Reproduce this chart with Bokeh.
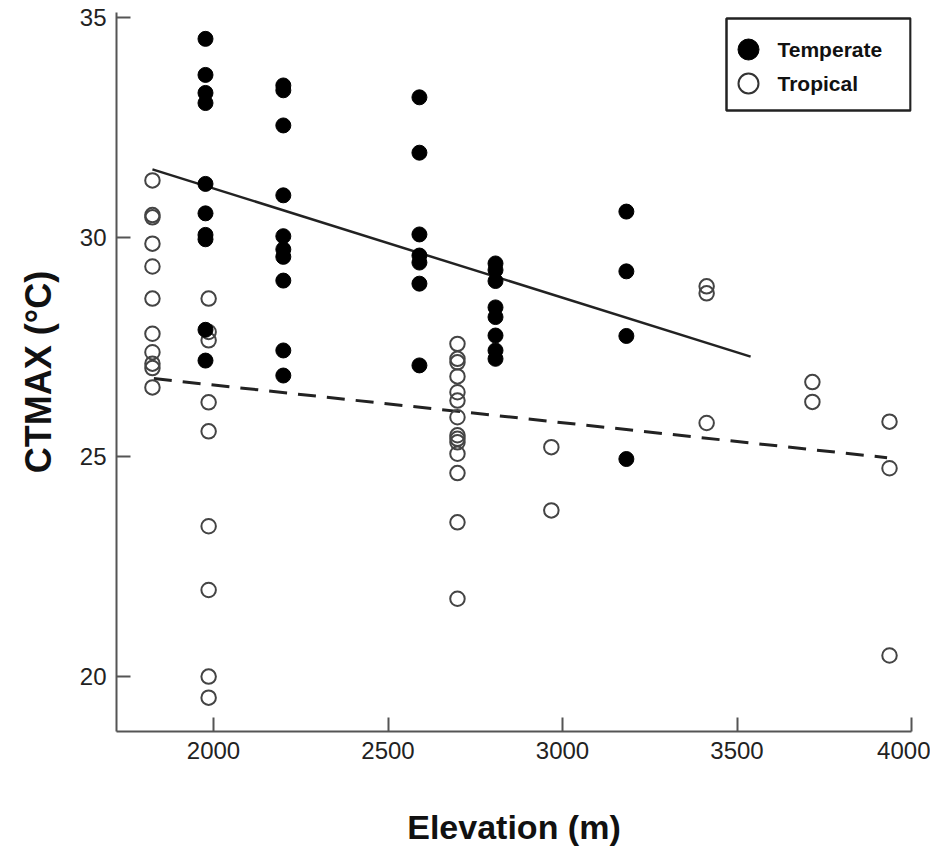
from bokeh.plotting import figure
from bokeh.models import Range1d
from bokeh.embed import file_html
from bokeh.resources import INLINE
from bokeh.core.properties import value

# ---------------- data ----------------
temperate_elev = [1977] * 10 + [2200] * 10 + [2590] * 7 + [2808] * 8 + [3183] * 4
temperate_ctmax = [
    34.51, 33.69, 33.28, 33.05, 31.21, 30.54, 30.05, 29.95, 27.89, 27.19,
    33.45, 33.34, 32.54, 30.95, 30.02, 29.72, 29.55, 29.01, 27.42, 26.85,
    33.18, 31.92, 30.06, 29.58, 29.42, 28.94, 27.08,
    29.40, 29.25, 29.00, 28.40, 28.18, 27.76, 27.42, 27.23,
    30.58, 29.22, 27.75, 24.95,
]
tropical_elev = ([1825] * 11 + [1986] * 9 + [2699] * 14 + [2968] * 2
                 + [3413] * 3 + [3716] * 2 + [3937] * 3)
tropical_ctmax = [
    31.29, 30.50, 30.45, 29.85, 29.33, 28.60, 27.80, 27.38, 27.12, 27.02, 26.58,
    28.60, 27.84, 27.65, 26.24, 25.58, 23.42, 21.97, 20.00, 19.52,
    27.57, 27.23, 27.15, 26.83, 26.47, 26.28, 25.90, 25.49, 25.41, 25.33,
    25.07, 24.63, 23.51, 21.77,
    25.22, 23.78,
    28.88, 28.72, 25.77,
    26.70, 26.25,
    25.80, 24.74, 20.48,
]
temperate_fit_x = [1825, 3539]
temperate_fit_y = [31.54, 27.28]
tropical_fit_x = [1829, 3930]
tropical_fit_y = [26.78, 24.98]

x_ticks = [2000, 2500, 3000, 3500, 4000]
y_ticks = [20, 25, 30, 35]
legend_labels = ["Temperate", "Tropical"]

X_MIN, X_MAX = 1722, 4000
Y_MIN, Y_MAX = 18.75, 35.11

# ---------------- layout ----------------
W, H = 930, 852
LEFT, RIGHT, TOP, BOTTOM = 116, 19, 12, 121
FW, FH = W - LEFT - RIGHT, H - TOP - BOTTOM

FONT = "Liberation Sans"

p = figure(width=W, height=H, output_backend="svg", toolbar_location=None,
           x_range=Range1d(X_MIN, X_MAX), y_range=Range1d(Y_MIN, Y_MAX),
           min_border_left=LEFT, min_border_right=RIGHT,
           min_border_top=TOP, min_border_bottom=BOTTOM)
p.outline_line_color = None
p.xgrid.visible = False
p.ygrid.visible = False
p.background_fill_color = "white"
p.border_fill_color = "white"

for ax in (p.xaxis[0], p.yaxis[0]):
    ax.axis_line_color = "#555555"
    ax.axis_line_width = 2
    ax.major_tick_line_color = "#555555"
    ax.major_tick_line_width = 2
    ax.major_tick_in = 14
    ax.major_tick_out = 0
    ax.minor_tick_line_color = None
    ax.major_label_text_font = FONT
    ax.major_label_text_font_size = "24px"
    ax.major_label_text_color = "#222222"
    ax.major_label_standoff = 10
    ax.axis_label_text_font = FONT
    ax.axis_label_text_font_style = "bold"
    ax.axis_label_text_font_size = "34px"
    ax.axis_label_text_color = "#111111"

p.xaxis.ticker = x_ticks
p.yaxis.ticker = y_ticks
p.xaxis.axis_label = "Elevation (m)"
p.yaxis.axis_label = "CTMAX (°C)"
p.yaxis.axis_label_text_font_size = "36px"
p.xaxis.axis_label_standoff = 46
p.yaxis.axis_label_standoff = 18

# fit lines
p.line(temperate_fit_x, temperate_fit_y, line_color="#222222", line_width=2.5)
p.line(tropical_fit_x, tropical_fit_y, line_color="#222222", line_width=3,
       line_dash="18 11")

# points
p.scatter(tropical_elev, tropical_ctmax, size=14.5, fill_color="white",
          fill_alpha=0, line_color="#444444", line_width=2)
p.scatter(temperate_elev, temperate_ctmax, size=15, fill_color="black",
          line_color="black", line_width=1)


# ---------------- legend (drawn by hand, positioned in frame pixels) ----------
def sx(px):
    return X_MIN + (px - LEFT) / FW * (X_MAX - X_MIN)


def sy(py):
    return Y_MAX - (py - TOP) / FH * (Y_MAX - Y_MIN)


p.quad(left=[sx(726)], right=[sx(910)], top=[sy(18)], bottom=[sy(110)],
       fill_color="white", line_color="#222222", line_width=2.5)
p.scatter([sx(748)], [sy(49)], size=21, fill_color="black", line_color="black")
p.scatter([sx(748)], [sy(83)], size=20, fill_color="white",
          line_color="#333333", line_width=2)
p.text([sx(777), sx(777)], [sy(49), sy(83)], text=legend_labels,
       text_font=value(FONT), text_font_style="bold", text_font_size="21px",
       text_baseline="middle", text_align="left", text_color="#111111")

open("out.html", "w").write(file_html(p, INLINE))
